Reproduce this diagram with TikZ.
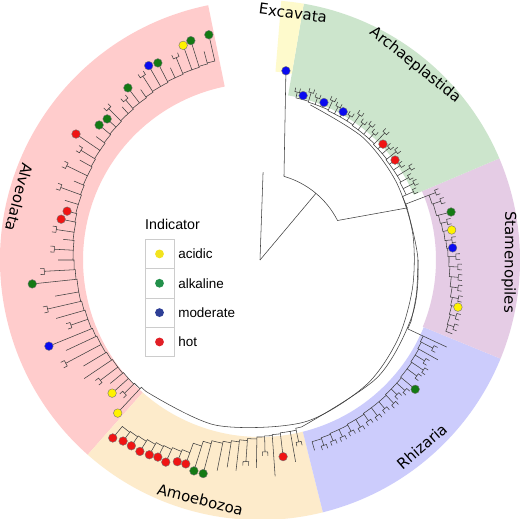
\documentclass[tikz,border=0pt]{standalone}
\usepackage{fontspec}
\setmainfont{Liberation Sans}
\newfontfamily\cladefont{DejaVu Sans}
\usepackage{tikz}
\usetikzlibrary{positioning}

\definecolor{alvcol}{HTML}{FFCCCC}
\definecolor{amocol}{HTML}{FDEBCB}
\definecolor{rhicol}{HTML}{CCCCFC}
\definecolor{stacol}{HTML}{E5CCE5}
\definecolor{arccol}{HTML}{CCE5CC}
\definecolor{exccol}{HTML}{FEFACC}
\definecolor{treered}{HTML}{F01414}
\definecolor{treeblue}{HTML}{0A0AF0}
\definecolor{treegreen}{HTML}{147A14}
\definecolor{treeyellow}{HTML}{FFF200}
\definecolor{keyyellow}{HTML}{F2E31E}
\definecolor{keygreen}{HTML}{22904A}
\definecolor{keyblue}{HTML}{2E3F96}
\definecolor{keyred}{HTML}{E11F26}

\tikzstyle{branch} = [draw=black!75, line width=0.55pt]

\newcommand\band[4]{\fill[#1] (#2:#4) arc[start angle=#2, end angle=#3, radius=#4] -- (#3:260) arc[start angle=#3, end angle=#2, radius=260] -- cycle;}
\newcommand\cladetree[3]{%
  \foreach \a/\b/\t/\f [remember=\a as \pa (initially #1), remember=\b as \pb (initially #2)] in {#3} {
    \draw[branch] (\pa:\pb) arc[start angle=\pa, end angle=\a, radius=\pb] -- (\a:\b) -- (\a:\t);
    \ifnum\f=1\relax
      \draw[branch] ({\a-0.8}:{\t+4}) -- ({\a-0.8}:\t) arc[start angle={\a-0.8}, end angle={\a+0.8}, radius=\t] -- ({\a+0.8}:{\t+4});
    \fi
  }}

\begin{document}
\begin{tikzpicture}[x=1bp, y=-1bp,
    leaf/.style={circle, draw=black!55, line width=0.4pt, inner sep=0pt, minimum size=8.6bp},
    key/.style={circle, inner sep=0pt, minimum size=8.8bp},
    cell/.style={draw=black!20, fill=white, line width=0.6pt},
    clade label/.style={font=\cladefont\fontsize{15}{18}\selectfont, inner sep=0pt},
    entry/.style={font=\fontsize{13.5}{16}\selectfont, anchor=west, inner sep=0pt}
]
\useasboundingbox[fill=white] (0,0) rectangle (520,519);

\begin{scope}[shift={(260,260)}]
\band{alvcol}{131.5}{258.5}{177}
\band{amocol}{76}{131.5}{177}
\band{rhicol}{22.3}{76}{177}
\band{stacol}{-23}{22.3}{176}
\band{arccol}{-80.3}{-23}{167}
\band{exccol}{-85.3}{-80.3}{189}

\draw[branch] (0,0) -- (-88:88);
\draw[branch] (0,0) -- (-50:87);
\draw[branch] (-74:87) arc[start angle=-74, end angle=-27, radius=87] -- (-19.5:156);
\draw[branch] (-74:87) -- (-82.2:191);

\draw[branch] plot[smooth] coordinates {(-72:163) (-50:160) (-30:157) (-10:155) (10:155) (30:159) (50:164) (75:168) (105:171) (131:174)};
\draw[branch] plot[smooth] coordinates {(-19.5:156) (0:158) (20:162) (45:166) (76:172)};
\draw[branch] plot[smooth] coordinates {(0:158) (12:160) (22:163)};

\cladetree{-19.5}{156}{-24/160/168/1, -26.5/160/172/1, -29/161/170/1, -31.5/161/176/1, -34/161/169/1,
  -36.5/161/168/0, -38.5/162/174/1, -41/162/171/1, -43.3/162/169/0, -45.5/163/178/1, -48/163/170/1,
  -50.5/163/174/1, -53/163/171/1, -55.5/164/176/1, -58/164/170/1, -60.7/164/170/0, -63/164/172/1,
  -65.5/165/175/1, -67.9/165/170/0, -70.5/165/172/1, -73/166/175/1, -75.3/166/170/0, -77.5/166/172/1}
\cladetree{-19.5}{156}{-21/181/188/1, -18/182/190/1, -14.1/184/197/0, -11.5/185/191/1, -8.9/186/194/0,
  -6/187/193/1, -3.6/188/193/0, -1/189/196/1, 2/190/198/1, 5/192/199/1, 8/194/200/1, 11/196/202/1,
  13.4/197/203.5/0, 16/198/204/1, 19/199/205/1, 21/200/206/0}
\cladetree{22}{163}{25/180/206/0, 27/181/194/1, 29.3/182/204/0, 31.5/182/193/1, 34/183/197/1,
  36.5/183/195/1, 39.8/184/202/0, 42/184/195/1, 44.5/184/192/1, 47/185/196/1, 50/185/194/1,
  53/185/195/1, 56/186/194/1, 59/186/195/1, 62/187/194/1, 65/187/195/1, 68/188/195/1, 71/189/196/1, 74/190/198/0}
\cladetree{76}{172}{78/174/186/1, 80/174/205/0, 83.3/175/198/0, 86/176/217/0, 88.5/177/192/1, 91/179/208/0,
  94/181/202/1, 96.5/183/212/0, 99/185/210/0, 101.5/187/215/0, 104.9/190/221/0, 107.4/195/221/0,
  110/205/217/0, 112.3/207/218/0, 115/209/223/0, 117.4/210/222/0, 119.6/212/224/0, 122.1/214/226/0,
  124.7/215/226/0, 127.1/216/227/0, 129.6/218/231/0}
\cladetree{131}{174}{133/176/209/0, 135.5/177/190/1, 138/177/199/0, 140.5/178/194/0, 143/178/200/1,
  146/179/212/0, 149/180/206/0, 152/180/220/1, 155/181/214/0, 157.8/182/228/0, 161/182/200/1,
  164/183/212/0, 167/184/218/1, 170/184/208/0, 174/185/229/0, 177/186/216/1, 180/187/202/0,
  183/187/206/1, 186/188/198/0, 188.5/188/206/1, 191.6/189/203/0, 194.2/190/199/0, 197/190/204/0,
  200/191/212/1, 203/192/202/0, 206/192/215/1, 209/193/206/0, 211.5/194/210/1, 214.4/194/223/0,
  217/195/205/0, 220/196/210/0, 222.7/196/208/0, 225/197/214/1, 228/197/206/0, 230/198/209/1,
  232.5/198/217/0, 235/199/208/0, 237.5/200/218/1, 240.2/200/224/0, 242.6/201/222/0, 245/201/212/0,
  247.5/202/219/1, 250.3/202/228/0, 252.5/203/230/0, 255/204/216/0, 257.2/204/231/0}

\foreach \a/\r/\c [count=\i] in {-82.2/191/treeblue,
    -75.3/170/treeblue, -67.9/170/treeblue, -60.7/170/treeblue, -43.3/169/treered, -36.5/168/treered,
    -14.1/197/treegreen, -8.9/194/treeyellow, -3.6/193/treeblue, 13.4/203.5/treeyellow,
    39.8/202/treegreen,
    83.3/198/treered, 104.9/221/treegreen, 107.4/221/treegreen, 110/217/treered, 112.3/218/treered,
    115/223/treered, 117.4/222/treered, 119.6/224/treered, 122.1/226/treered, 124.7/226/treered,
    127.1/227/treered, 129.6/231/treered,
    132.9/209/treeyellow, 138/199/treeyellow, 157.8/228/treeblue, 174/229/treegreen, 191.6/203/treered,
    194.2/199/treered, 214.4/223/treered, 220/210/treegreen, 222.7/208/treegreen, 232.5/217/treegreen,
    240.2/224/treeblue, 242.6/222/treegreen, 250.3/228/treeyellow, 252.5/230/treegreen, 257.2/231/treegreen}
  \node[leaf, fill=\c] (d\i) at (\a:\r) {};

\node[clade label, rotate=-7.6] (exc) at (-82.4:249) {Excavata};
\node[clade label, rotate=-38.5] (arc) at (-51.5:249) {Archaeplastida};
\node[clade label, rotate=-90.5] (sta) at (0.5:249) {Stamenopiles};
\node[clade label, rotate=40.9] (rhi) at (49.1:247) {Rhizaria};
\node[clade label, rotate=-14] (amo) at (104:247) {Amoebozoa};
\node[clade label, rotate=-104.6] (alv) at (194.6:249) {Alveolata};
\end{scope}

\node[anchor=west, inner sep=0pt, font=\fontsize{14.3}{17}\selectfont] (ttl) at (145,224) {Indicator};
\foreach \c/\t [count=\i] in {keyyellow/acidic, keygreen/alkaline, keyblue/moderate, keyred/hot} {
  \draw[cell] (145,{239.3+29.35*(\i-1)}) rectangle (174,{239.3+29.35*\i});
  \node[key, fill=\c] (k\i) at (159.5,{253.9+29.35*(\i-1)}) {};
  \node[entry, right=14bp of k\i] (e\i) {\t};
}
\end{tikzpicture}
\end{document}
